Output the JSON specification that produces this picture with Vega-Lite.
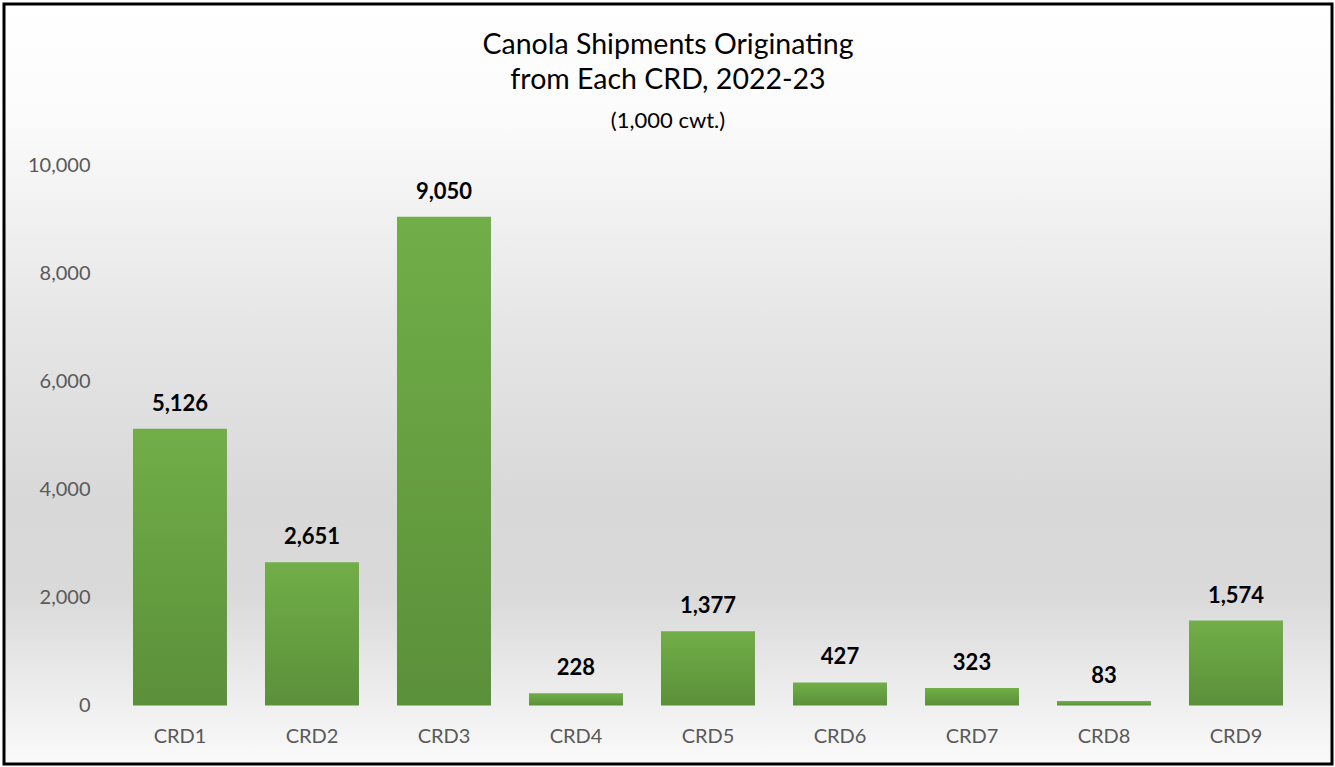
{
  "$schema": "https://vega.github.io/schema/vega-lite/v6.json",
  "width": 1328,
  "height": 760,
  "autosize": {"type": "none"},
  "padding": {"left": 4, "top": 4, "right": 3, "bottom": 3},
  "background": "#ffffff",
  "config": {
    "font": "Lato",
    "view": {
      "stroke": "#000000",
      "strokeWidth": 3,
      "fill": {
        "gradient": "linear",
        "x1": 0, "y1": 0, "x2": 0, "y2": 1,
        "stops": [
          {"offset": 0, "color": "#ffffff"},
          {"offset": 0.15, "color": "#fbfbfb"},
          {"offset": 0.42, "color": "#e6e6e6"},
          {"offset": 0.66, "color": "#d8d8d8"},
          {"offset": 0.78, "color": "#dadada"},
          {"offset": 0.9, "color": "#ececec"},
          {"offset": 1, "color": "#fafafa"}
        ]
      }
    }
  },
  "title": {
    "text": ["Canola Shipments Originating", "from Each CRD, 2022-23"],
    "subtitle": "(1,000 cwt.)",
    "font": "Lato",
    "fontSize": 28.5,
    "fontWeight": "normal",
    "color": "#000000",
    "lineHeight": 35,
    "subtitleFont": "Lato",
    "subtitleFontSize": 22,
    "subtitleColor": "#000000",
    "subtitlePadding": 17,
    "anchor": "middle",
    "frame": "group",
    "offset": -128
  },
  "data": {
    "values": [
      {"crd": "CRD1", "value": 5126},
      {"crd": "CRD2", "value": 2651},
      {"crd": "CRD3", "value": 9050},
      {"crd": "CRD4", "value": 228},
      {"crd": "CRD5", "value": 1377},
      {"crd": "CRD6", "value": 427},
      {"crd": "CRD7", "value": 323},
      {"crd": "CRD8", "value": 83},
      {"crd": "CRD9", "value": 1574}
    ]
  },
  "encoding": {
    "x": {
      "field": "crd",
      "type": "nominal",
      "sort": null,
      "scale": {"paddingInner": 0.2879, "paddingOuter": 0.6742, "align": 0.7247},
      "axis": {
        "title": null,
        "labelAngle": 0,
        "ticks": false,
        "domain": false,
        "grid": false,
        "offset": -28,
        "labelPadding": 0,
        "labelBaseline": "middle",
        "labelFontSize": 20,
        "labelFont": "Lato",
        "labelColor": "#595959"
      }
    },
    "y": {
      "field": "value",
      "type": "quantitative",
      "scale": {"domain": [-1083, 12991], "nice": false, "zero": false},
      "axis": {
        "title": null,
        "values": [0, 2000, 4000, 6000, 8000, 10000],
        "format": ",d",
        "offset": -86,
        "ticks": false,
        "domain": false,
        "grid": false,
        "labelPadding": 0,
        "labelFontSize": 20,
        "labelFont": "Lato",
        "labelColor": "#595959"
      }
    }
  },
  "layer": [
    {
      "mark": {
        "type": "bar",
        "fill": {
          "gradient": "linear",
          "x1": 0, "y1": 0, "x2": 0, "y2": 1,
          "stops": [
            {"offset": 0, "color": "#71ae48"},
            {"offset": 1, "color": "#5b903a"}
          ]
        }
      },
      "encoding": {"y2": {"datum": 0}}
    },
    {
      "mark": {
        "type": "text",
        "baseline": "alphabetic",
        "dy": -18,
        "fontSize": 22,
        "fontWeight": "bold",
        "font": "Lato",
        "color": "#000000"
      },
      "encoding": {"text": {"field": "value", "type": "quantitative", "format": ",d"}}
    }
  ]
}
